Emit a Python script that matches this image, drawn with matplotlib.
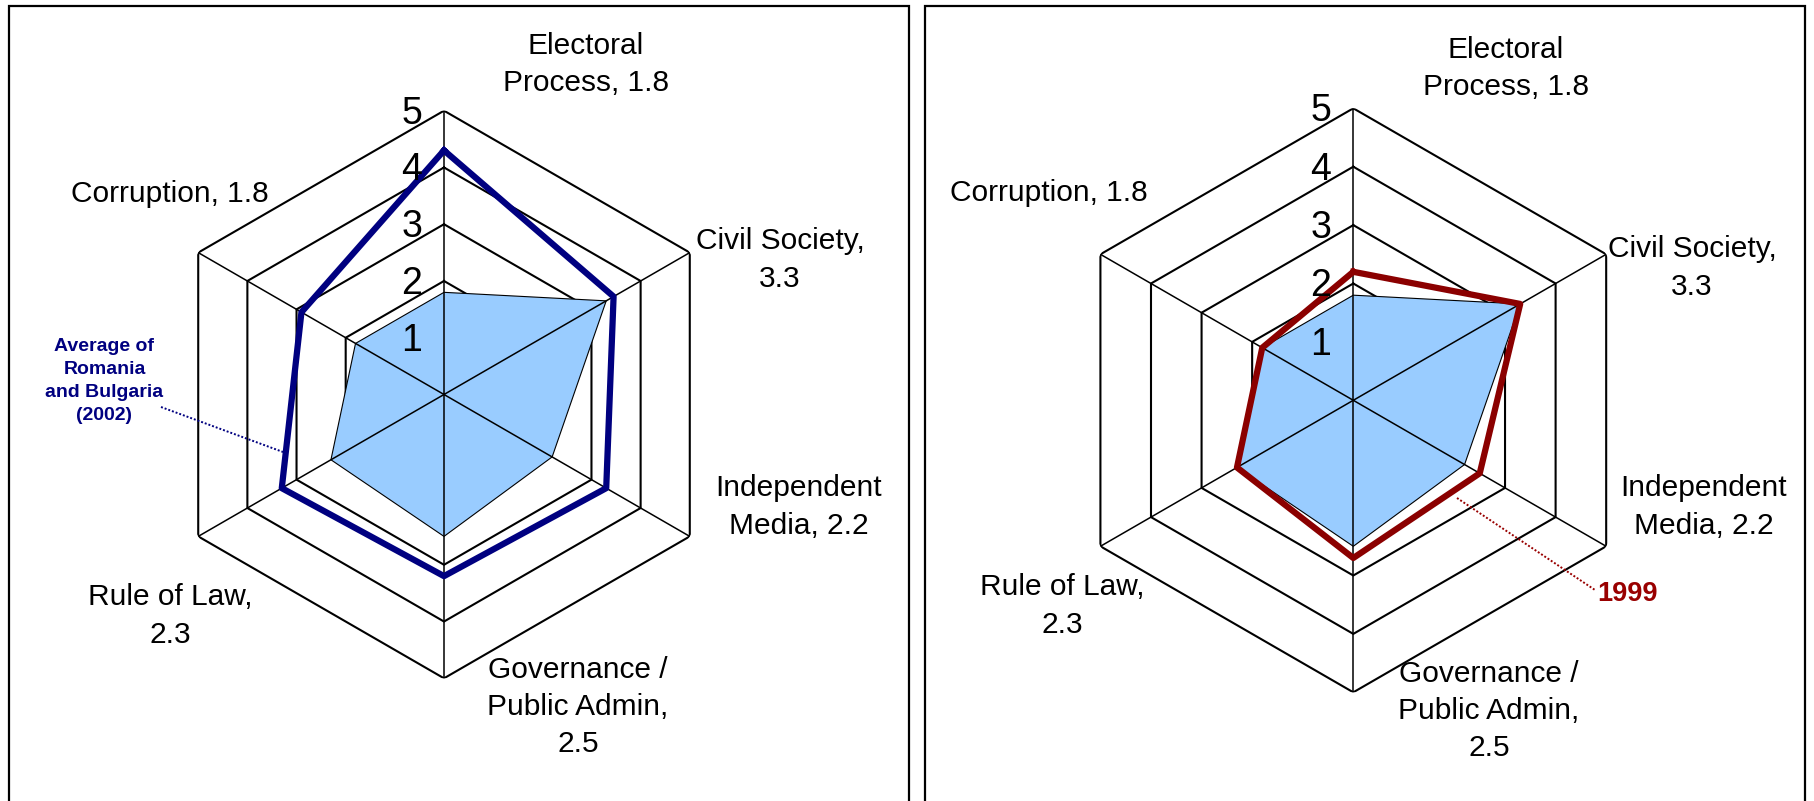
import numpy as np
import matplotlib
matplotlib.use("Agg")
import matplotlib.pyplot as plt
from matplotlib.patches import Rectangle

plt.rcParams['font.family'] = ['Liberation Sans', 'DejaVu Sans']

# data
labels = ["Electoral\nProcess, 1.8", "Civil Society,\n3.3", "Independent\nMedia, 2.2",
          "Governance /\nPublic Admin,\n2.5", "Rule of Law,\n2.3", "Corruption, 1.8"]
current = [1.8, 3.3, 2.2, 2.5, 2.3, 1.8]
avg_ro_bg_2002 = [4.3, 3.45, 3.3, 3.2, 3.3, 2.9]
year_1999 = [2.2, 3.3, 2.5, 2.7, 2.3, 1.8]
rings = [1, 2, 3, 4, 5]

W, H = 1815, 801
fig = plt.figure(figsize=(W / 100, H / 100), dpi=100)

theta = np.linspace(0, 2 * np.pi, len(labels), endpoint=False)
theta_c = np.append(theta, theta[0])

def closed(v):
    return np.append(v, v[0])

def fx(x):
    return x / W

def fy(y):
    return 1 - y / H

def radar(cx, cy, R):
    ax = fig.add_axes([fx(cx - R), fy(cy + R), 2 * R / W, 2 * R / H], projection='polar')
    ax.set_theta_offset(np.pi / 2)
    ax.set_theta_direction(-1)
    ax.set_ylim(0, 5)
    ax.grid(False)
    ax.set_xticks([])
    ax.set_yticks([])
    ax.spines['polar'].set_visible(False)
    ax.patch.set_alpha(0)
    for r in rings:
        ax.plot(theta_c, [r] * len(theta_c), color='black', lw=1.5, zorder=1)
    ax.fill(theta_c, closed(current), facecolor='#99CCFF', edgecolor='black', lw=0.8, zorder=2)
    for t in theta:
        ax.plot([t, t], [0, 5], color='black', lw=1.1, zorder=3)
    for r in rings:
        ax.annotate(str(r), xy=(0, r), xytext=(-22, -3), textcoords='offset pixels',
                    ha='right', va='center', fontsize=27, zorder=5)
    return ax

# panel borders
for x0, x1 in [(9, 909), (925, 1805)]:
    fig.add_artist(Rectangle((fx(x0), -0.05), (x1 - x0) / W, fy(6) + 0.05,
                             transform=fig.transFigure, fill=False, lw=1.6, edgecolor='black'))

# left panel
axl = radar(444, 394.5, 283.8)
axl.plot(theta_c, closed(avg_ro_bg_2002), color='#000080', lw=4.5, zorder=4)
left_pos = [(586, 64.5), (780, 260), (799, 507), (578, 707), (170, 616), (170, 194)]
for s, (x, y) in zip(labels, left_pos):
    fig.text(fx(x), fy(y), s, ha='center', va='center', fontsize=21.5, linespacing=1.41)
fig.text(fx(104.5), fy(381), "Average of\nRomania\nand Bulgaria\n(2002)", ha='center', va='center',
         fontsize=14, fontweight='bold', color='#000080', linespacing=1.44)
fig.add_artist(plt.Line2D([fx(161), fx(283)], [fy(407), fy(452)], transform=fig.transFigure,
                          color='#000080', lw=1.4, ls=(0, (1, 1))))

# right panel
axr = radar(1353.3, 400.3, 292)
axr.plot(theta_c, closed(year_1999), color='#8B0000', lw=4.5, zorder=4)
right_pos = [(1505.7, 68.3), (1692, 268), (1704, 507), (1489, 711), (1062, 606), (1048.6, 193)]
for s, (x, y) in zip(labels, right_pos):
    fig.text(fx(x), fy(y), s, ha='center', va='center', fontsize=21.5, linespacing=1.41)
fig.text(fx(1627.5), fy(594), "1999", ha='center', va='center',
         fontsize=19.5, fontweight='bold', color='#990000')
fig.add_artist(plt.Line2D([fx(1457), fx(1595)], [fy(498), fy(590)], transform=fig.transFigure,
                          color='#990000', lw=1.4, ls=(0, (1, 1))))

fig.savefig("out.png", dpi=100, facecolor='white')
